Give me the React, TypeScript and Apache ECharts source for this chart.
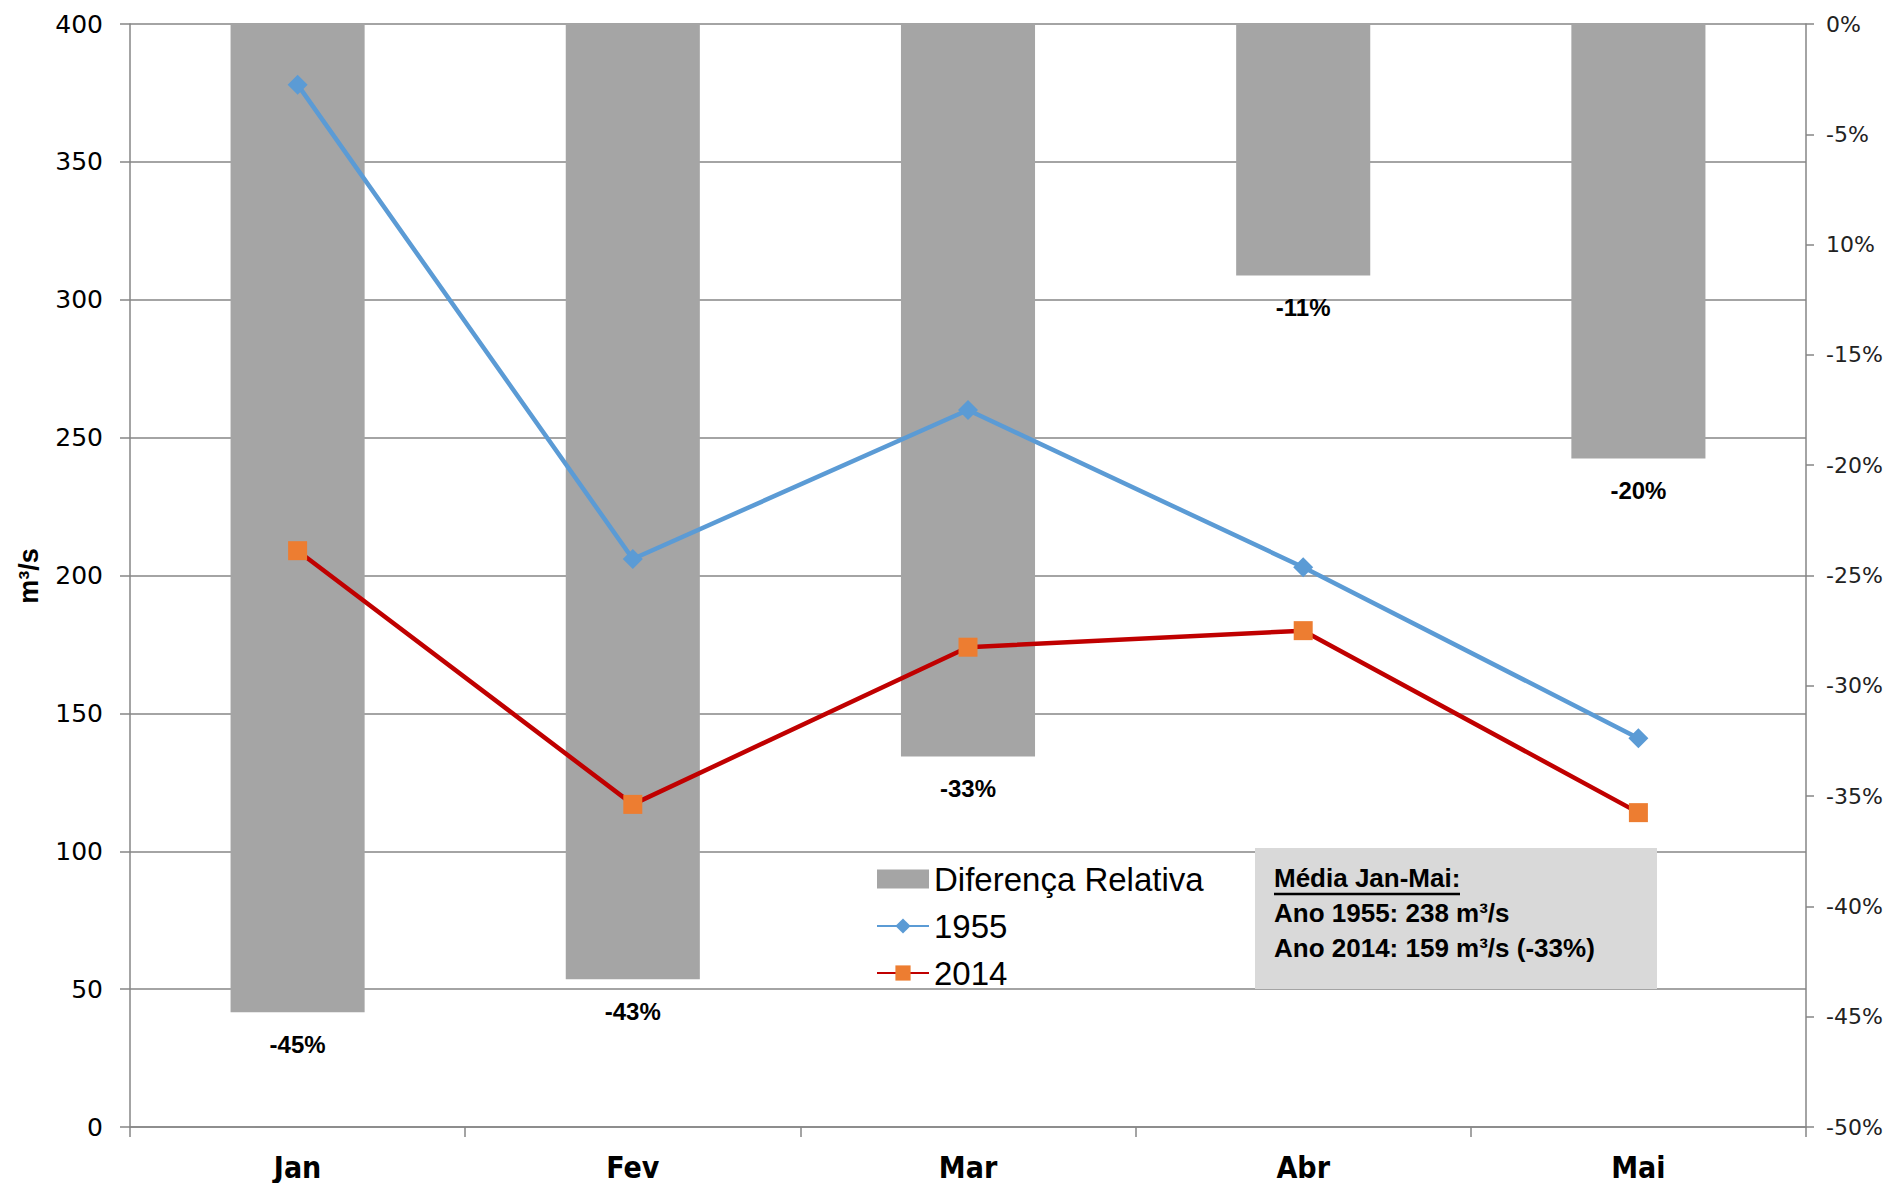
import React, { useEffect, useRef } from "react";
import * as echarts from "echarts";

const categories = ["Jan", "Fev", "Mar", "Abr", "Mai"];
const flow1955 = [378, 206, 260, 203, 141];
const flow2014 = [209, 117, 174, 180, 114];
const relDiff = [-44.8, -43.3, -33.2, -11.4, -19.7];
const leftTicks = [0, 50, 100, 150, 200, 250, 300, 350, 400];
const rightTickLabels = ["0%", "-5%", "10%", "-15%", "-20%", "-25%", "-30%", "-35%", "-40%", "-45%", "-50%"];
const legendNames = ["Diferença Relativa", "1955", "2014"];
const boxTitle = "Média Jan-Mai:";
const boxLines = ["Ano 1955: 238 m³/s", "Ano 2014: 159 m³/s (-33%)"];
const yAxisName = "m³/s";

const NARROW = "'Liberation Sans Narrow', 'DejaVu Sans Condensed', 'Liberation Sans', sans-serif";
const SANS = "'Liberation Sans', Arial, sans-serif";
const DEJAVU = "'DejaVu Sans', Verdana, sans-serif";
const AXIS_GRAY = "#868686";

export default function App() {
  const ref = useRef<HTMLDivElement>(null);
  useEffect(() => {
    if (!ref.current) return;
    const chart = echarts.init(ref.current, undefined, { renderer: "svg" });
    const option: any = {
      animation: false,
      backgroundColor: "#ffffff",
      grid: { left: 130, right: 86, top: 24, bottom: 56, containLabel: false },
      legend: {
        orient: "vertical",
        left: 871,
        top: 857,
        itemWidth: 52,
        itemHeight: 19,
        itemGap: 13,
        textStyle: { fontFamily: SANS, fontSize: 33, color: "#000", lineHeight: 34 },
        data: [
          { name: legendNames[0], icon: "rect" },
          { name: legendNames[1] },
          { name: legendNames[2] },
        ],
      },
      xAxis: {
        type: "category",
        data: categories,
        boundaryGap: true,
        axisLine: { show: true, lineStyle: { color: AXIS_GRAY, width: 1.5 } },
        axisTick: { show: true, length: 10, alignWithLabel: false, lineStyle: { color: AXIS_GRAY, width: 1.5 } },
        axisLabel: { margin: 25, fontSize: 30, fontWeight: "bold", fontFamily: NARROW, color: "#000" },
        splitLine: { show: false },
      },
      yAxis: [
        {
          type: "value",
          min: leftTicks[0],
          max: leftTicks[leftTicks.length - 1],
          interval: 50,
          axisLine: { show: true, lineStyle: { color: AXIS_GRAY, width: 1.5 } },
          axisTick: { show: true, length: 10, lineStyle: { color: AXIS_GRAY, width: 1.5 } },
          splitLine: { show: true, lineStyle: { color: AXIS_GRAY, width: 1.5 } },
          axisLabel: { margin: 27, fontSize: 25, fontFamily: DEJAVU, color: "#000" },
        },
        {
          type: "value",
          min: -50,
          max: 0,
          interval: 5,
          position: "right",
          axisLine: { show: true, lineStyle: { color: AXIS_GRAY, width: 1.5 } },
          axisTick: { show: true, length: 8, lineStyle: { color: AXIS_GRAY, width: 1.5 } },
          splitLine: { show: false },
          axisLabel: {
            margin: 20,
            fontSize: 22,
            fontFamily: DEJAVU,
            color: "#222",
            formatter: (v: number) => rightTickLabels[Math.round(-v / 5)] ?? "",
          },
        },
      ],
      series: [
        {
          name: legendNames[0],
          type: "bar",
          yAxisIndex: 1,
          data: relDiff,
          barWidth: "40%",
          itemStyle: { color: "#A5A5A5" },
          label: {
            show: true,
            position: "bottom",
            distance: 20,
            fontFamily: SANS,
            fontWeight: "bold",
            fontSize: 24,
            color: "#000",
            formatter: (p: any) => Math.round(p.value) + "%",
          },
        },
        {
          name: legendNames[1],
          type: "line",
          yAxisIndex: 0,
          data: flow1955,
          symbol: "diamond",
          symbolSize: [20, 20],
          lineStyle: { color: "#5B9BD5", width: 4.5 },
          itemStyle: { color: "#5B9BD5" },
        },
        {
          name: legendNames[2],
          type: "line",
          yAxisIndex: 0,
          data: flow2014,
          symbol: "rect",
          symbolSize: 19,
          lineStyle: { color: "#C00000", width: 4.5 },
          itemStyle: { color: "#ED7D31" },
        },
      ],
      graphic: [
        {
          type: "text",
          x: 29,
          y: 576,
          rotation: Math.PI / 2,
          style: {
            text: yAxisName,
            fontFamily: SANS,
            fontWeight: "bold",
            fontSize: 27,
            fill: "#000",
            align: "center",
            verticalAlign: "middle",
          },
        },
        {
          type: "rect",
          shape: { x: 1255, y: 848, width: 402, height: 141 },
          style: { fill: "#D9D9D9" },
          z: 10,
        },
        {
          type: "text",
          x: 1274,
          y: 878,
          z: 11,
          style: { text: boxTitle, fontFamily: SANS, fontWeight: "bold", fontSize: 26, fill: "#000", verticalAlign: "middle" },
        },
        {
          type: "line",
          z: 11,
          shape: { x1: 1274, y1: 894, x2: 1460, y2: 894 },
          style: { stroke: "#000", lineWidth: 2.5 },
        },
        {
          type: "text",
          x: 1274,
          y: 913,
          z: 11,
          style: { text: boxLines[0], fontFamily: SANS, fontWeight: "bold", fontSize: 26, fill: "#000", verticalAlign: "middle" },
        },
        {
          type: "text",
          x: 1274,
          y: 948,
          z: 11,
          style: { text: boxLines[1], fontFamily: SANS, fontWeight: "bold", fontSize: 26, fill: "#000", verticalAlign: "middle" },
        },
      ],
    };
    chart.setOption(option);
    return () => chart.dispose();
  }, []);
  return (
    <div
      ref={ref}
      style={{ position: "fixed", left: 0, top: 0, width: 1892, height: 1183, background: "#fff" }}
    />
  );
}
